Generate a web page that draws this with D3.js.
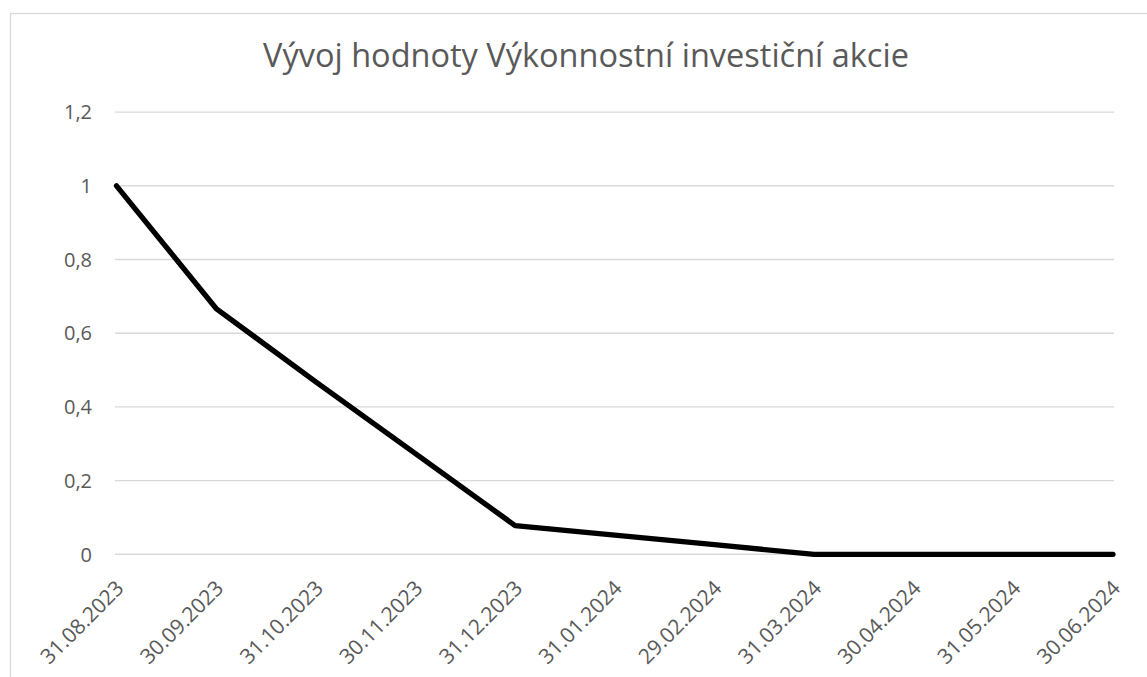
<!DOCTYPE html>
<meta charset="utf-8">
<style>
    body {
        margin: 0;
        background: white;
    }

    .tick-label {
        font-family: "Open Sans", sans-serif;
        fill: #595959;
    }

    .title {
        font-family: "Open Sans", sans-serif;
        font-size: 32.5px;
        fill: #595959;
    }
</style>

<body>
    <svg id="chart" width="1147" height="677"></svg>
    <script src="https://d3js.org/d3.v7.min.js"></script>
    <script>

        // data
        const dates = ["31.08.2023", "30.09.2023", "31.10.2023", "30.11.2023", "31.12.2023",
            "31.01.2024", "29.02.2024", "31.03.2024", "30.04.2024", "31.05.2024", "30.06.2024"];
        const values = [1, 0.667, 0.468, 0.273, 0.078, 0.052, 0.026, 0, 0, 0, 0];
        const yTicks = [0, 0.2, 0.4, 0.6, 0.8, 1, 1.2];
        const titleText = "Vývoj hodnoty Výkonnostní investiční akcie";

        const svg = d3.select("#chart");

        // chart frame (right and bottom edges run off the picture)
        svg.append("rect")
            .attr("x", 10.5)
            .attr("y", 13.5)
            .attr("width", 1300)
            .attr("height", 1000)
            .attr("fill", "white")
            .attr("stroke", "#d9d9d9")
            .attr("stroke-width", 1.3);

        const x = d3.scalePoint()
            .domain(dates)
            .range([116.5, 1113]);

        const y = d3.scaleLinear()
            .domain([0, 1.2])
            .range([554.3, 112.1]);

        // gridlines
        svg.append("g")
            .selectAll("line")
            .data(yTicks)
            .enter()
            .append("line")
            .attr("x1", 115)
            .attr("x2", 1114)
            .attr("y1", (d) => y(d))
            .attr("y2", (d) => y(d))
            .attr("stroke", "#d9d9d9")
            .attr("stroke-width", 1.4);

        // y axis labels
        const fmt = (d) => d3.format("~g")(d).replace(".", ",");
        svg.append("g")
            .selectAll("text")
            .data(yTicks)
            .enter()
            .append("text")
            .attr("class", "tick-label")
            .attr("x", 92)
            .attr("y", (d) => y(d))
            .attr("dy", "0.36em")
            .attr("text-anchor", "end")
            .style("font-size", "20px")
            .text(fmt);

        // x axis labels, rotated
        const xFont = 21;
        const capOff = 0.714 * xFont * 0.707;
        svg.append("g")
            .selectAll("text")
            .data(dates)
            .enter()
            .append("text")
            .attr("class", "tick-label")
            .attr("text-anchor", "end")
            .style("font-size", xFont + "px")
            .attr("transform", (d) => "translate(" + (x(d) - 2 + capOff) + "," + (579 + capOff) + ") rotate(-45)")
            .text((d) => d);

        // the line
        const line = d3.line()
            .x((d, i) => x(dates[i]))
            .y((d) => y(d));

        svg.append("path")
            .datum(values)
            .attr("d", line)
            .attr("fill", "none")
            .attr("stroke", "#000")
            .attr("stroke-width", 5.3)
            .attr("stroke-linejoin", "round")
            .attr("stroke-linecap", "round");

        // title
        svg.append("text")
            .attr("class", "title")
            .attr("x", 586)
            .attr("y", 67)
            .attr("text-anchor", "middle")
            .text(titleText);

    </script>
</body>

</html>
